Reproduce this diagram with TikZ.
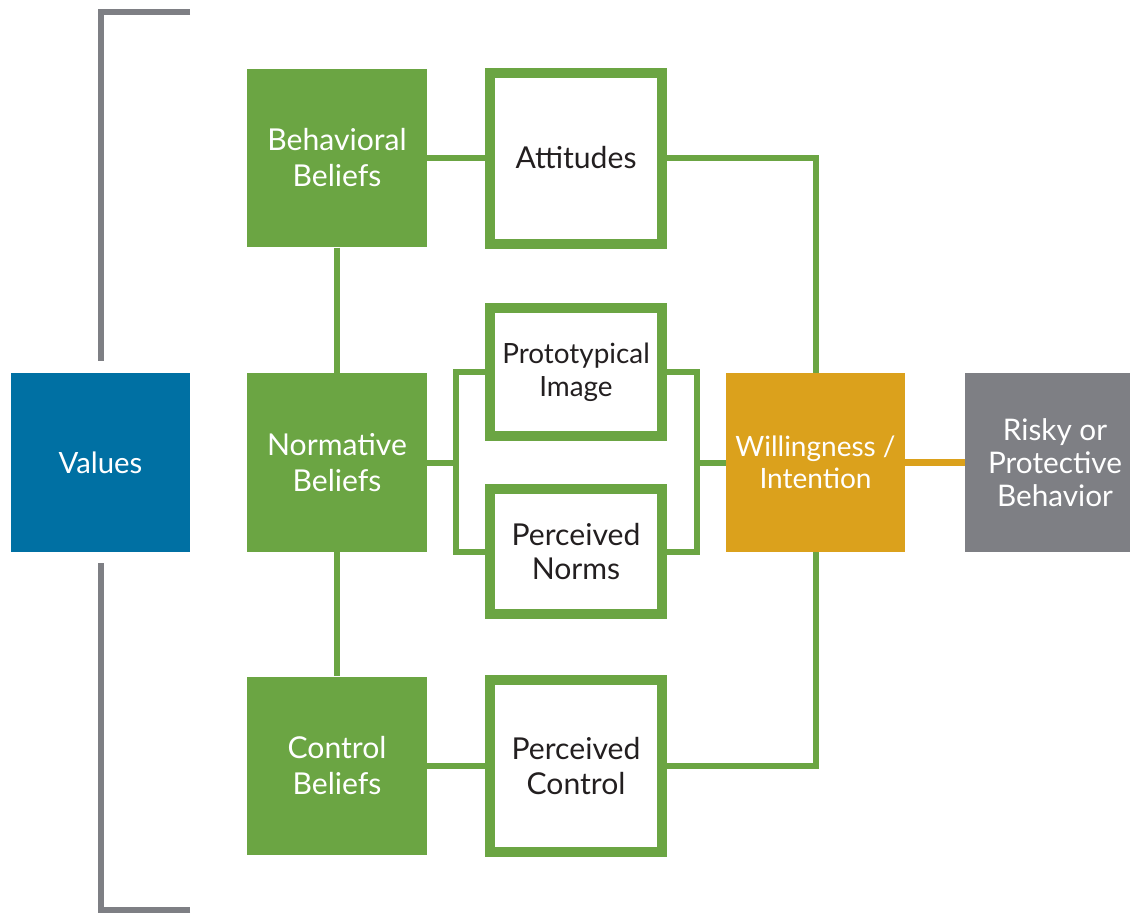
\documentclass[tikz,border=0pt]{standalone}
\usepackage{fontspec}
\setmainfont{Lato}
\usepackage{tikz}
\definecolor{leafgreen}{HTML}{6BA543}
\definecolor{valueblue}{HTML}{0070A3}
\definecolor{willorange}{HTML}{DBA11C}
\definecolor{behavgray}{HTML}{7E7F84}
\definecolor{inkdark}{HTML}{231F20}
\begin{document}
\begin{tikzpicture}[x=0.75pt, y=-0.75pt,
		green_style/.style={rectangle,fill=leafgreen,text=white,minimum width=135pt,minimum height=134pt,inner sep=0pt,align=center,font=\fontsize{22.6}{27}\selectfont},
		frame_style/.style={rectangle,draw=leafgreen,line width=7.5pt,fill=white,text=inkdark,minimum width=129pt,inner sep=0pt,align=center,font=\fontsize{22.6}{26}\selectfont},
		edge_style/.style={draw=leafgreen,line width=4.5pt},
		bracket_style/.style={draw=behavgray,line width=4.5pt}]
		
		\useasboundingbox (0,0) rectangle (1130,915);
		
		% left side
		\node[rectangle,fill=valueblue,text=white,minimum width=134pt,minimum height=134pt,font=\fontsize{22}{26}\selectfont] (va) at (100.5,462.5) {Values};
		\coordinate (bt) at (190,12);
		\coordinate (bb) at (190,910);
		
		% beliefs
		\node[green_style] (bb1) at (337,158) {Behavioral\\Beliefs};
		\node[green_style] (nb) at (337,462.5) {Normative\\Beliefs};
		\node[green_style] (cb) at (337,766) {Control\\Beliefs};
		
		% framed boxes
		\node[frame_style,minimum height=128.25pt] (at) at (576,158) {Attitudes};
		\node[frame_style,minimum height=96pt,font=\fontsize{20.9}{25}\selectfont] (pi) at (576,372) {Prototypical\\Image};
		\node[frame_style,minimum height=93.75pt] (pn) at (576,551.5) {Perceived\\Norms};
		\node[frame_style,minimum height=129pt] (pc) at (576,766) {Perceived\\Control};
		
		% right side
		\node[rectangle,fill=willorange,text=white,minimum width=134pt,minimum height=134pt,align=center,font=\fontsize{21}{24}\selectfont] (wi) at (815.5,462.5) {Willingness /\\Intention};
		\node[rectangle,fill=behavgray,text=white,minimum width=135pt,minimum height=134pt,inner sep=0pt,align=center,font=\fontsize{22.3}{25}\selectfont] (rb) at (1055,462.5) {Risky or\\Protective\\Behavior};
		
		\coordinate (jl) at (456,462.5);
		\coordinate (jr) at (697,462.5);
		
		\draw[bracket_style] (bt) -| ([yshift=9pt]va.north);
		\draw[bracket_style] (bb) -| ([yshift=-8pt]va.south);
		
		\draw[edge_style] (bb1) -- (at);
		\draw[edge_style] (bb1) -- (nb);
		\draw[edge_style] (nb) -- (cb);
		\draw[edge_style] (cb) -- (pc);
		\draw[edge_style] (nb) -- (jl);
		\draw[edge_style] (pi.west) -| (jl);
		\draw[edge_style] (pn.west) -| (jl);
		\draw[edge_style] (pi.east) -| (jr);
		\draw[edge_style] (pn.east) -| (jr);
		\draw[edge_style] (jr) -- (wi);
		\draw[edge_style] (at.east) -| (wi.north);
		\draw[edge_style] (pc.east) -| (wi.south);
		\draw[draw=willorange,line width=5pt] (wi) -- (rb);
		
\end{tikzpicture}
\end{document}
